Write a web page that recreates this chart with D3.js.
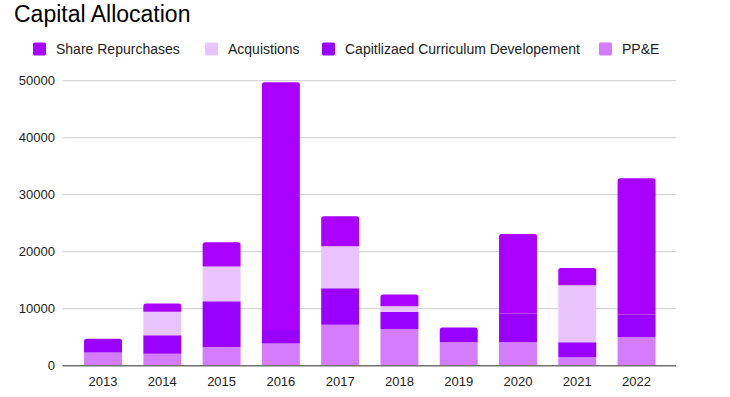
<!DOCTYPE html>
<html>
<head>
<meta charset="utf-8">
<script src="https://cdn.jsdelivr.net/npm/d3@7"></script>
<style>
  body { margin: 0; background: #fff; }
  text { font-family: "Liberation Sans", Arial, sans-serif; fill: #222; }
</style>
</head>
<body>
<svg id="chart" width="730" height="397"></svg>
<script>
// data
const years = ['2013', '2014', '2015', '2016', '2017', '2018', '2019', '2020', '2021', '2022'];
const ppe          = [2300, 2100, 3300, 3900, 7200, 6400, 4100, 4100, 1500, 5000];
const curriculum   = [2450, 3250, 8000, 2350, 6400, 3000, 2600, 5050, 2600, 4000];
const acquisitions = [0, 4100, 6100, 0, 7350, 1050, 0, 0, 10000, 0];
const repurchases  = [0, 1450, 4250, 43500, 5250, 2050, 0, 13950, 3050, 23900];
const yTicks = [0, 10000, 20000, 30000, 40000, 50000];

// stacking order bottom -> top
const seriesNames = ['PP&E', 'Capitlizaed Curriculum Developement', 'Acquistions', 'Share Repurchases'];
const seriesValues = [ppe, curriculum, acquisitions, repurchases];
const colors = ['#d47cfc', '#9900ff', '#e9c3fd', '#aa00ff'];

// legend order as shown
const legendNames = ['Share Repurchases', 'Acquistions', 'Capitlizaed Curriculum Developement', 'PP&E'];

let svg = d3.select('#chart');

let rows = years.map(function (y, i) {
    let r = {year: y};
    seriesNames.forEach(function (s, k) { r[s] = seriesValues[k][i]; });
    return r;
});
let stack = d3.stack().keys(seriesNames)(rows);

let xScale = d3.scaleBand()
    .domain(years)
    .range([73.4, 666.2])
    .paddingInner(0.36)
    .paddingOuter(0.18);

let yScale = d3.scaleLinear()
    .domain([0, 50000])
    .range([365.7, 80.7]);

// title
svg.append('text')
    .attr('x', 14)
    .attr('y', 22)
    .style('font-size', '23px')
    .style('fill', '#000')
    .text('Capital Allocation');

// legend
let lx = [33, 205, 322, 599];
legendNames.forEach(function (name, i) {
    let k = seriesNames.indexOf(name);
    svg.append('rect')
        .attr('x', lx[i])
        .attr('y', 42.5)
        .attr('width', 13)
        .attr('height', 13)
        .attr('rx', 1.5)
        .style('fill', colors[k]);
    svg.append('text')
        .attr('x', lx[i] + 23)
        .attr('y', 54)
        .style('font-size', '14px')
        .text(name);
});

// gridlines
svg.selectAll('.grid')
    .data(yTicks.slice(1))
    .enter()
    .append('line')
    .attr('class', 'grid')
    .attr('x1', 62.5)
    .attr('x2', 676)
    .attr('y1', function (d) { return yScale(d); })
    .attr('y2', function (d) { return yScale(d); })
    .style('stroke', '#cccccc')
    .style('stroke-width', 1);

svg.selectAll('.ylab')
    .data(yTicks)
    .enter()
    .append('text')
    .attr('class', 'ylab')
    .attr('x', 55)
    .attr('y', function (d) { return yScale(d) + 4.5; })
    .attr('text-anchor', 'end')
    .style('font-size', '13px')
    .text(function (d) { return d; });

// bars
let topIndex = years.map(function (y, i) {
    let t = 0;
    seriesValues.forEach(function (v, k) { if (v[i] > 0) t = k; });
    return t;
});

function segPath(x, w, y0, y1, rounded) {
    let r = rounded ? Math.min(2.5, (y0 - y1) / 2) : 0;
    let p = d3.path();
    p.moveTo(x, y0);
    p.lineTo(x, y1 + r);
    if (r > 0) p.quadraticCurveTo(x, y1, x + r, y1);
    p.lineTo(x + w - r, y1);
    if (r > 0) p.quadraticCurveTo(x + w, y1, x + w, y1 + r);
    p.lineTo(x + w, y0);
    p.closePath();
    return p.toString();
}

stack.forEach(function (layer, k) {
    svg.selectAll('.bar' + k)
        .data(layer.filter(function (d) { return d[1] > d[0]; }))
        .enter()
        .append('path')
        .attr('class', 'bar' + k)
        .attr('d', function (d) {
            let i = years.indexOf(d.data.year);
            return segPath(xScale(d.data.year), xScale.bandwidth(),
                yScale(d[0]), yScale(d[1]), topIndex[i] === k);
        })
        .style('fill', colors[k]);
});

// baseline
svg.append('line')
    .attr('x1', 62.5)
    .attr('x2', 676)
    .attr('y1', yScale(0))
    .attr('y2', yScale(0))
    .style('stroke', '#707070')
    .style('stroke-width', 1.6);

// x labels
svg.selectAll('.xlab')
    .data(years)
    .enter()
    .append('text')
    .attr('class', 'xlab')
    .attr('x', function (d) { return xScale(d) + xScale.bandwidth() / 2; })
    .attr('y', 386)
    .attr('text-anchor', 'middle')
    .style('font-size', '13px')
    .text(function (d) { return d; });
</script>
</body>
</html>
